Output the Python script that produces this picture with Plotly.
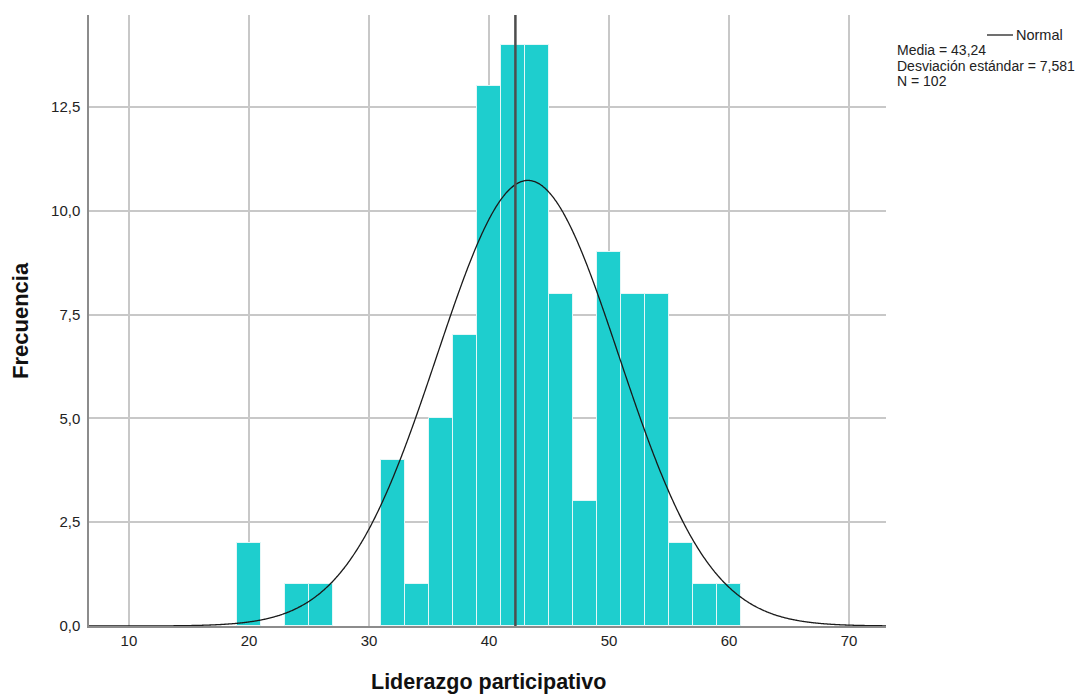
import numpy as np
import plotly.graph_objects as go

# Data
bin_centers = [20, 24, 26, 32, 34, 36, 38, 40, 42, 44, 46, 48, 50, 52, 54, 56, 58, 60]
frequencies = [2, 1, 1, 4, 1, 5, 7, 13, 14, 14, 8, 3, 9, 8, 8, 2, 1, 1]
bin_width = 2
mean_val = 43.24
sd_val = 7.581
n_val = 102
ref_line_x = 42.2

x_ticks = [10, 20, 30, 40, 50, 60, 70]
y_ticks = [0, 2.5, 5.0, 7.5, 10.0, 12.5]
y_tick_labels = ["0,0", "2,5", "5,0", "7,5", "10,0", "12,5"]
legend_lines = ["Media = 43,24", "Desviación estándar = 7,581", "N = 102"]

X_MIN, X_MAX = 6.67, 73.08
Y_MAX = 14.72

xs = np.linspace(X_MIN, X_MAX, 800)
ys = n_val * bin_width / (sd_val * np.sqrt(2 * np.pi)) * np.exp(-0.5 * ((xs - mean_val) / sd_val) ** 2)

fig = go.Figure()
fig.add_trace(go.Bar(
    x=bin_centers, y=frequencies, width=bin_width,
    marker=dict(color="#1ECECE", line=dict(color="#E4F7F7", width=1)),
    showlegend=False, hoverinfo="x+y"))
fig.add_trace(go.Scatter(x=xs, y=ys, mode="lines",
                         line=dict(color="#1a1a1a", width=1.3, shape="spline"),
                         showlegend=False))
fig.add_trace(go.Scatter(x=[ref_line_x, ref_line_x], y=[0, Y_MAX], mode="lines",
                         line=dict(color="#4d4d4d", width=2.5), showlegend=False))

# The page body has an 8px margin, so the figure is sized and offset for it.
OFF = 8
font_family = "Liberation Sans, Arial, sans-serif"
fig.update_layout(
    width=1092 - OFF, height=695 - OFF,
    margin=dict(l=89 - OFF, r=206, t=15 - OFF, b=69, autoexpand=False),
    paper_bgcolor="white", plot_bgcolor="white",
    font=dict(family=font_family, color="#222222"),
    bargap=0,
    xaxis=dict(range=[X_MIN, X_MAX], tickvals=x_ticks, ticks="", showgrid=True,
               gridcolor="#C8C8C8", gridwidth=1.5, zeroline=False, automargin=False,
               showline=True, linecolor="#8C8C8C", linewidth=1.5,
               tickfont=dict(size=15, color="#222222")),
    yaxis=dict(range=[0, Y_MAX], tickvals=y_ticks, ticktext=y_tick_labels, ticks="",
               showgrid=True, gridcolor="#C8C8C8", gridwidth=1.5, zeroline=False,
               automargin=False, ticklabelstandoff=4,
               showline=True, linecolor="#8C8C8C", linewidth=1.5,
               tickfont=dict(size=15, color="#222222")),
)

def py(p):
    return (626 - p) / 611.0

def px(p):
    return (p - 89) / 797.0

# Axis titles
fig.add_annotation(xref="paper", yref="paper", x=px(488), y=py(682),
                   text="<b>Liderazgo participativo</b>", showarrow=False,
                   xanchor="center", yanchor="middle",
                   font=dict(size=21.5, color="#111111"))
fig.add_annotation(xref="paper", yref="paper", x=px(20), y=py(321),
                   text="<b>Frecuencia</b>", showarrow=False, textangle=-90,
                   xanchor="center", yanchor="middle",
                   font=dict(size=22, color="#111111"))

# Legend-like text block
fig.add_shape(type="line", xref="paper", yref="paper",
              x0=px(987), x1=px(1013), y0=py(35), y1=py(35),
              line=dict(color="#222222", width=1.3))
fig.add_annotation(xref="paper", yref="paper", x=px(1014), y=py(35), text="Normal",
                   showarrow=False, xanchor="left", yanchor="middle",
                   font=dict(size=14.5, color="#222222"))
for i, t in enumerate(legend_lines):
    fig.add_annotation(xref="paper", yref="paper", x=px(895), y=py(50 + i * 15.6), text=t,
                       showarrow=False, xanchor="left", yanchor="middle",
                       font=dict(size=14, color="#222222"))

fig.write_html(
    "out.html",
    post_script="document.documentElement.style.overflow='hidden';"
                "document.body.style.overflow='hidden';",
)
